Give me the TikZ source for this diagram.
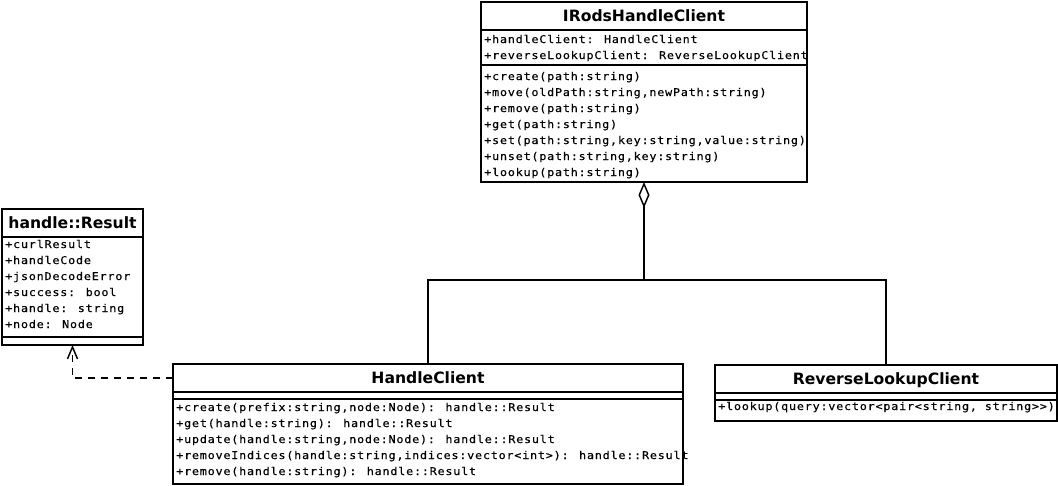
\documentclass[tikz,border=0pt]{standalone}
\usepackage{fontspec}
\newfontfamily\umlsans{DejaVu Sans}
\newfontfamily\umlmono{DejaVu Sans Mono}[FakeStretch=1.1,LetterSpace=7.5,FakeBold=0.4]
\usetikzlibrary{arrows.meta}

\tikzset{
	classbox/.style={draw, line width=1.1pt, inner sep=0pt, outer sep=0pt, anchor=north west},
	classname/.style={font=\umlsans\bfseries\fontsize{11.7}{13}\selectfont, inner sep=0pt, anchor=base},
	member/.style={font=\umlmono\fontsize{8}{9}\selectfont, inner sep=0pt, anchor=base west},
	sepline/.style={line width=1.1pt},
	relation/.style={line width=1.1pt},
}

\begin{document}
\begin{tikzpicture}[x=0.75pt, y=-0.75pt]
	\useasboundingbox (0,0) rectangle (1058,486);

	% IRodsHandleClient
	\node[classbox, minimum width=326*0.75pt, minimum height=180*0.75pt] (irods) at (481,2) {};
	\draw[sepline] (481,30) -- (807,30);
	\draw[sepline] (481,65) -- (807,65);
	\node[classname] (irods-name) at (644,21.5) {IRodsHandleClient};
	\node[member] (irods-a1) at (484,43) {+handleClient: HandleClient};
	\node[member] (irods-a2) at (484,59) {+reverseLookupClient: ReverseLookupClient};
	\node[member] (irods-m1) at (484,80) {+create(path:string)};
	\node[member] (irods-m2) at (484,96) {+move(oldPath:string,newPath:string)};
	\node[member] (irods-m3) at (484,112) {+remove(path:string)};
	\node[member] (irods-m4) at (484,128) {+get(path:string)};
	\node[member] (irods-m5) at (484,144) {+set(path:string,key:string,value:string)};
	\node[member] (irods-m6) at (484,160) {+unset(path:string,key:string)};
	\node[member] (irods-m7) at (484,176) {+lookup(path:string)};

	% handle::Result
	\node[classbox, minimum width=141*0.75pt, minimum height=136*0.75pt] (result) at (2,209) {};
	\draw[sepline] (2,237) -- (143,237);
	\draw[sepline] (2,337) -- (143,337);
	\node[classname] (result-name) at (72.5,228.5) {handle::Result};
	\node[member] (result-a1) at (5,248) {+curlResult};
	\node[member] (result-a2) at (5,264) {+handleCode};
	\node[member] (result-a3) at (5,280) {+jsonDecodeError};
	\node[member] (result-a4) at (5,296) {+success: bool};
	\node[member] (result-a5) at (5,312) {+handle: string};
	\node[member] (result-a6) at (5,328) {+node: Node};

	% HandleClient
	\node[classbox, minimum width=510*0.75pt, minimum height=120*0.75pt] (hc) at (173,364) {};
	\draw[sepline] (173,392) -- (683,392);
	\draw[sepline] (173,399) -- (683,399);
	\node[classname] (hc-name) at (428,383.5) {HandleClient};
	\node[member] (hc-m1) at (176,411) {+create(prefix:string,node:Node): handle::Result};
	\node[member] (hc-m2) at (176,427) {+get(handle:string): handle::Result};
	\node[member] (hc-m3) at (176,443) {+update(handle:string,node:Node): handle::Result};
	\node[member] (hc-m4) at (176,459) {+removeIndices(handle:string,indices:vector<int>): handle::Result};
	\node[member] (hc-m5) at (176,475) {+remove(handle:string): handle::Result};

	% ReverseLookupClient
	\node[classbox, minimum width=342*0.75pt, minimum height=56*0.75pt] (rlc) at (715,365) {};
	\draw[sepline] (715,393) -- (1057,393);
	\draw[sepline] (715,400) -- (1057,400);
	\node[classname] (rlc-name) at (886,384.5) {ReverseLookupClient};
	\node[member] (rlc-m1) at (718,410) {+lookup(query:vector<pair<string, string>>)};

	% aggregation
	\coordinate (join) at (644,280);
	\draw[relation] (hc.north) |- (join) -| (rlc.north);
	\draw[relation, -{Diamond[open, length=19.5pt, width=8.25pt]}] (join) -- (irods.south);

	% dependency
	\coordinate (hc-dep) at (173,378);
	\draw[relation, dash pattern=on 5.25pt off 4.5pt, -{Straight Barb[length=9pt, width=7.5pt]}] (hc-dep) -| (result.south);

\end{tikzpicture}
\end{document}
